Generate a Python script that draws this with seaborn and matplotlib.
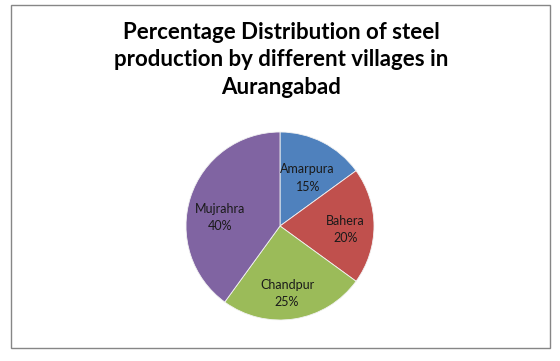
import matplotlib
matplotlib.use("Agg")
import numpy as np
import matplotlib.pyplot as plt
import seaborn as sns
from matplotlib.patches import Rectangle

# chart data
villages = ["Amarpura", "Bahera", "Chandpur", "Mujrahra"]
shares = [15, 20, 25, 40]
colors = ["#4F81BD", "#C0504D", "#9BBB59", "#8064A2"]
title = "Percentage Distribution of steel\nproduction by different villages in\nAurangabad"

# label placement tweaks (Excel "best fit"): radius fraction, angle shift in degrees
label_radius = [0.59, 0.70, 0.72, 0.64]
label_shift = [-3, -3, -3, 10]

sns.set_theme(style="white")
plt.rcParams["font.family"] = ["Lato", "DejaVu Sans"]

fig = plt.figure(figsize=(5.6, 3.61), dpi=100)
fig.patch.set_facecolor("white")

# outer chart border like an Excel chart area
fig.add_artist(Rectangle((10.5 / 560, 1 - 348 / 361), 539.5 / 560, 343.5 / 361,
                         transform=fig.transFigure, fill=False,
                         edgecolor="#868686", linewidth=1.0))

fig.text(281 / 560, 1 - 60 / 361, title, ha="center", va="center",
         fontsize=16, fontweight="bold", color="black", linespacing=1.38)

# pie area, centre ~ (280, 226), radius ~94 px
r = 94
ax = fig.add_axes([(280 - r) / 560, 1 - (226 + r) / 361, 2 * r / 560, 2 * r / 361])
wedges, texts = ax.pie(
    shares, colors=colors, startangle=90, counterclock=False,
    wedgeprops=dict(linewidth=0.6, edgecolor="#f2f2f2"),
)
for w, name, val, rad, sh in zip(wedges, villages, shares, label_radius, label_shift):
    mid = np.deg2rad((w.theta1 + w.theta2) / 2 + sh)
    ax.text(rad * np.cos(mid), rad * np.sin(mid), f"{name}\n{val}%",
            ha="center", va="center", fontsize=9, color="#1a1a1a",
            linespacing=1.55)
ax.set_xlim(-1, 1)
ax.set_ylim(-1, 1)
ax.set_aspect("equal")
ax.axis("off")

fig.savefig("out.png", dpi=100)
